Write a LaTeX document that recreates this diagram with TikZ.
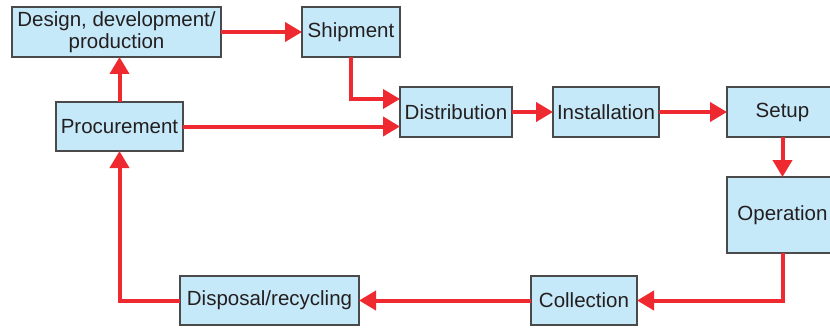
\documentclass[tikz,border=0pt]{standalone}
\usepackage{fontspec}
\setmainfont{Liberation Sans}
\usepackage{xcolor}
\usepackage{tikz}
\usetikzlibrary{positioning,arrows.meta}
\definecolor{boxfill}{HTML}{C6E9F9}
\definecolor{boxline}{HTML}{4A4A4A}
\definecolor{flowred}{HTML}{EE2A30}
\definecolor{txt}{HTML}{231F20}
\tikzset{
  stage/.style={draw=boxline, line width=1.2pt, fill=boxfill, minimum height=50pt,
                inner sep=2pt, outer sep=0pt, align=center, text=txt,
                font=\fontsize{20.5}{22}\selectfont},
  l/.style={-{Triangle[length=17pt,width=19pt]}, line width=4pt, draw=flowred},
}
\begin{document}
\begin{tikzpicture}
  \useasboundingbox (0,0) rectangle (830pt,-329pt);
  \node[stage,minimum width=209pt] (design) at (116.5pt,-32pt){Design, development/\\production};
  \node[stage,minimum width=98pt,right=81pt of design] (ship){Shipment};
  \node[stage,minimum width=127pt,below=45pt of design,xshift=3pt,minimum height=49pt] (proc){Procurement};
  \node[stage,minimum width=112pt,below right=30pt and 0pt of ship] (dist){Distribution};
  \node[stage,minimum width=106pt,right=41pt of dist] (inst){Installation};
  \node[stage,minimum width=111pt,right=68pt of inst] (setup){Setup};
  \node[stage,minimum width=111pt,minimum height=76pt,below=40pt of setup] (oper){Operation};
  \node[stage,minimum width=106pt,minimum height=49pt,below left=23pt and 90pt of oper] (coll){Collection};
  \node[stage,minimum width=179pt,minimum height=49pt,left=172pt of coll] (disp){Disposal/recycling};
  \draw[l](proc.north)--(proc.north |- design.south);
  \draw[l](design)--(ship);
  \draw[l](ship.south)|-([yshift=13pt]dist.west);
  \draw[l](proc.east)--(proc.east -| dist.west);
  \draw[l](dist)--(inst);\draw[l](inst)--(setup);
  \draw[l](setup)--(oper);
  \draw[l](oper.south)|-(coll.east);
  \draw[l](coll)--(disp);
  \draw[l](disp.west)-|(proc.south);
\end{tikzpicture}
\end{document}
